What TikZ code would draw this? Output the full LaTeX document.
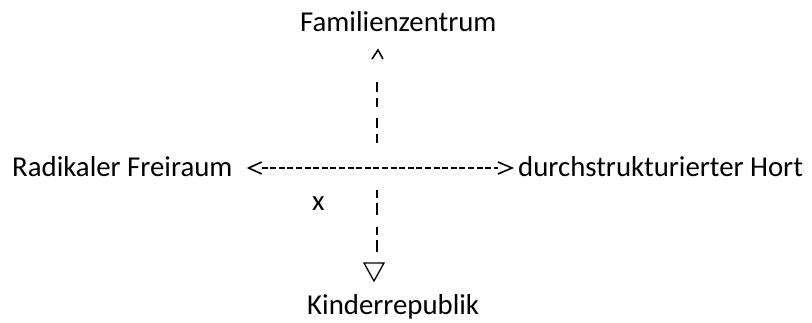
\documentclass[tikz,border=0pt]{standalone}
\usepackage{fontspec}
\setmainfont{Carlito}
\begin{document}
\begin{tikzpicture}[x=1pt,y=-1pt,
  lbl/.style={inner sep=0pt, anchor=base west, font=\fontsize{28.8}{34}\selectfont},
  vdash/.style={line width=2.7pt, draw=black},
  hdash/.style={line width=1.5pt, dash pattern=on 6pt off 2.6pt},
  tipline/.style={line width=1.6pt, line join=miter}
]
\useasboundingbox (0,0) rectangle (812,322);
\node[lbl] (fam) at (300,31) {Familienzentrum};
\node[lbl] (rad) at (12,176) {Radikaler Freiraum};
\node[lbl] (hort) at (518,176) {durchstrukturierter Hort};
\node[lbl] (xm) at (312,210) {x};
\node[lbl] (kin) at (307,314) {Kinderrepublik};
\coordinate (c) at (377,168);
% horizontal connector
\coordinate (lt) at ([xshift=16pt]rad.east |- c);
\coordinate (rt) at ([xshift=-6pt]hort.west |- c);
\draw[hdash] ([xshift=13pt]lt) -- ([xshift=-14pt]rt);
\draw[tipline] ([shift={(13,-6)}]lt) -- (lt) -- ([shift={(13,6)}]lt);
\draw[tipline] ([shift={(-14,-6)}]rt) -- (rt) -- ([shift={(-14,6)}]rt);
% upper connector
\draw[vdash, dash pattern=on 10pt off 6pt on 9pt off 11pt, shorten <=51pt, shorten >=23pt] (c |- fam.base) -- (c);
\coordinate (uptip) at ([yshift=-19pt]c |- fam.base);
\draw[tipline] ([shift={(-5,9)}]uptip) -- ([xshift=1pt]uptip) -- ([shift={(6,9)}]uptip);
% lower connector
\draw[vdash, dash pattern=on 8pt off 5pt on 12pt off 12pt, shorten <=22pt, shorten >=62pt] (c) -- (c |- kin.base);
\coordinate (dntip) at ([xshift=-3pt,yshift=33pt]c |- kin.base);
\draw[line width=1.3pt, line join=miter] ([shift={(-10,-18)}]dntip) -- ([shift={(10,-18)}]dntip) -- (dntip) -- cycle;
\end{tikzpicture}
\end{document}
